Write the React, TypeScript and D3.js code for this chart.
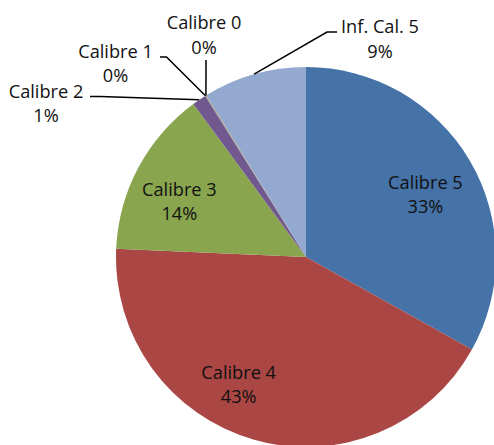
import React from "react";
import * as d3 from "d3";

const categories = ["Calibre 5", "Calibre 4", "Calibre 3", "Calibre 2", "Calibre 1", "Calibre 0", "Inf. Cal. 5"];
const values = [33.1, 42.6, 14.2, 1.2, 0.05, 0.05, 8.8];
const percentLabels = ["33%", "43%", "14%", "1%", "0%", "0%", "9%"];
const colors = ["#4572A7", "#AA4643", "#89A54E", "#71588F", "#4198AF", "#DB843D", "#93A9CF"];

// layout (not data)
const W = 494, H = 445;
const CX = 306, CY = 257, R = 190;
const FONT = "'Open Sans', 'Liberation Sans', sans-serif";
const FS = 18.2;
const LINE = 24.5;
// inside label placement: radius fraction & nudge
const inside: Record<string, { rf: number; dx: number; dy: number }> = {
  "Calibre 5": { rf: 0.68, dx: 8, dy: 3.4 },
  "Calibre 4": { rf: 0.72, dx: -30, dy: -4 },
  "Calibre 3": { rf: 0.7, dx: -9.3, dy: 7.6 },
};
// outside labels: text centre x, first baseline y, leader elbow & end points
const outside: Record<string, { tx: number; ty: number; pts: [number, number][] }> = {
  "Calibre 2": { tx: 46, ty: 97.5, pts: [[100, 96.5], [90, 96.5]] },
  "Calibre 1": { tx: 115.5, ty: 57.5, pts: [[166.5, 57], [160, 57]] },
  "Calibre 0": { tx: 204, ty: 29, pts: [[206, 60]] },
  "Inf. Cal. 5": { tx: 380, ty: 33.3, pts: [[327, 32], [337, 32]] },
};

export default function App() {
  const data = categories.map((c, i) => ({ c, v: values[i], p: percentLabels[i], col: colors[i] }));
  const pie = d3.pie<any>().value((d) => d.v).sort(null).startAngle(0).endAngle(2 * Math.PI);
  const arcs = pie(data);
  const arc = d3.arc<any>().innerRadius(0).outerRadius(R);
  const onArc = (a: number, r: number): [number, number] => [Math.sin(a) * r, -Math.cos(a) * r];

  return (
    <svg width={W} height={H} style={{ position: "absolute", left: 0, top: 0, background: "#fff" }}>
      <g transform={`translate(${CX},${CY})`}>
        {arcs.map((a, i) => (
          <path key={i} d={arc(a) as string} fill={a.data.col} />
        ))}
      </g>
      {arcs.map((a, i) => {
        const mid = (a.startAngle + a.endAngle) / 2;
        const ins = inside[a.data.c];
        if (ins) {
          const [x, y] = onArc(mid, R * ins.rf);
          const tx = CX + x + ins.dx;
          const ty = CY + y + ins.dy;
          return (
            <text key={"t" + i} x={tx} y={ty - 6} textAnchor="middle" fontFamily={FONT} fontSize={FS} fill="#111">
              <tspan x={tx}>{a.data.c}</tspan>
              <tspan x={tx} dy={LINE}>{a.data.p}</tspan>
            </text>
          );
        }
        const o = outside[a.data.c];
        const [sx, sy] = onArc(mid, R);
        const pts: [number, number][] = [[CX + sx, CY + sy], ...o.pts];
        return (
          <g key={"o" + i}>
            <path d={d3.line()(pts) as string} fill="none" stroke="#000" strokeWidth={1.5} />
            <text x={o.tx} y={o.ty} textAnchor="middle" fontFamily={FONT} fontSize={FS} fill="#111">
              <tspan x={o.tx}>{a.data.c}</tspan>
              <tspan x={o.tx} dy={LINE}>{a.data.p}</tspan>
            </text>
          </g>
        );
      })}
    </svg>
  );
}
